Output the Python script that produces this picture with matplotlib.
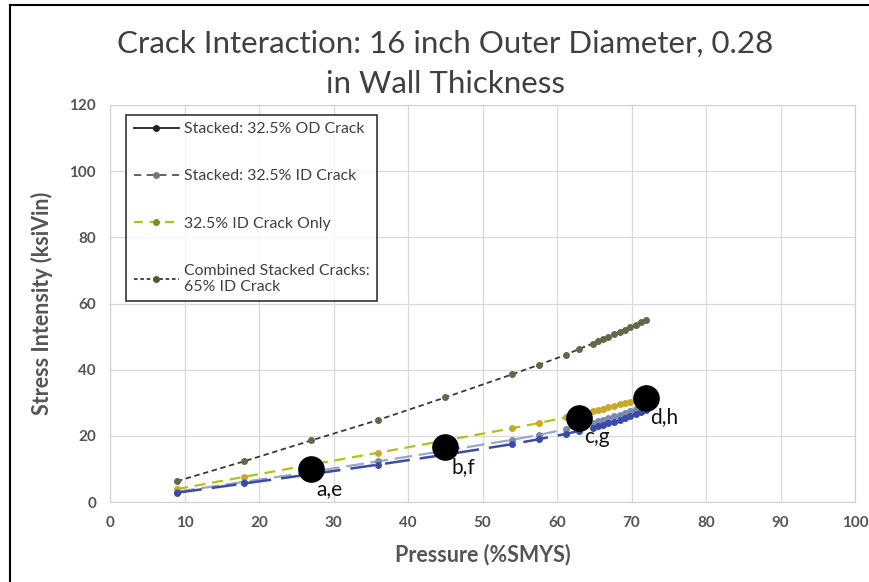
import matplotlib
matplotlib.use("Agg")
import matplotlib.pyplot as plt
from matplotlib.lines import Line2D

plt.rcParams['font.family'] = ['Lato', 'DejaVu Sans']

# Pressure (%SMYS) points
pressure = [9, 18, 27, 36, 45, 54, 57.6, 61.2, 63, 64.8, 65.5, 66.2, 66.9,
            67.7, 68.4, 69.1, 69.8, 70.6, 71.3, 72]

stacked_od = [2.8, 5.6, 8.4, 11.3, 14.3, 17.5, 19.0, 20.6, 21.5, 22.4, 22.9,
              23.3, 23.8, 24.3, 24.8, 25.4, 25.9, 26.5, 27.1, 27.7]
stacked_id = [3.1, 6.1, 9.1, 12.3, 15.5, 18.8, 20.3, 22.0, 23.0, 23.9, 24.4,
              24.9, 25.4, 25.9, 26.4, 27.0, 27.5, 28.1, 28.7, 29.3]
id_only = [3.9, 7.6, 11.3, 14.9, 18.6, 22.3, 23.9, 25.6, 26.5, 27.4, 27.8,
           28.2, 28.6, 29.1, 29.5, 29.9, 30.3, 30.8, 31.2, 31.6]
combined = [6.3, 12.3, 18.6, 24.8, 31.6, 38.6, 41.5, 44.5, 46.3, 47.9, 48.6,
            49.3, 50.0, 50.7, 51.4, 52.1, 52.9, 53.6, 54.3, 55.0]

point_x = [27, 45, 63, 72]
point_y = [10, 16.5, 25.5, 31.5]
point_labels = ["a,e", "b,f", "c,g", "d,h"]

labels = ["Stacked: 32.5% OD Crack", "Stacked: 32.5% ID Crack",
          "32.5% ID Crack Only", "Combined Stacked Cracks:\n65% ID Crack"]

fig = plt.figure(figsize=(8.7, 5.82), dpi=100)
ax = fig.add_axes([110/870, 80/582, 745/870, 397/582])

ax.plot(pressure, combined, linestyle=(0, (3, 2)), color='#3a3a3a', lw=1.3,
        marker='o', ms=4, mfc='#5f6a4a', mec='#5f6a4a', zorder=3)
ax.plot(pressure, id_only, linestyle=(0, (5, 3)), color='#b4c214', lw=1.6,
        marker='o', ms=4, mfc='#c9a82a', mec='#c9a82a', zorder=3)
ax.plot(pressure, stacked_id, linestyle=(0, (8, 3)), color='#9aa7c7', lw=1.6,
        marker='o', ms=4, mfc='#7a8ab0', mec='#7a8ab0', zorder=3)
ax.plot(pressure, stacked_od, linestyle=(0, (10, 4)), color='#3a4aa8', lw=1.8,
        marker='o', ms=4, mfc='#3a4aa8', mec='#3a4aa8', zorder=3)

ax.scatter(point_x, point_y, s=330, color='black', zorder=5)
for x, y, t in zip(point_x, point_y, point_labels):
    ax.annotate(t, (x, y), xytext=(13, -7), textcoords='offset points',
                ha='center', va='top', fontsize=15,
                color='#111111', zorder=6)

ax.set_xlim(0, 100)
ax.set_ylim(0, 120)
ax.set_xticks(range(0, 101, 10))
ax.set_yticks(range(0, 121, 20))
ax.grid(True, color='#d9d9d9', lw=0.9)
ax.set_axisbelow(True)
for s in ax.spines.values():
    s.set_color('#d0d0d0')
ax.tick_params(length=0, labelsize=11, colors='#555555', pad=10)
for lab in ax.get_xticklabels() + ax.get_yticklabels():
    lab.set_fontweight('bold')

ax.set_xlabel("Pressure (%SMYS)", fontsize=15.5, color='#555555',
              fontweight='bold', labelpad=10)
ax.set_ylabel("Stress Intensity (ksiVin)", fontsize=15.5, color='#555555',
              fontweight='bold', labelpad=12)

fig.text(0.512, 0.948, "Crack Interaction: 16 inch Outer Diameter, 0.28\nin Wall Thickness",
         ha='center', va='top', fontsize=22.5, color='#404040', linespacing=1.5)

handles = [
    Line2D([], [], color='#222222', lw=1.3, marker='o', ms=4),
    Line2D([], [], color='#555555', lw=1.3, linestyle=(0, (4, 3)), marker='o', ms=4, mfc='#777777', mec='#777777'),
    Line2D([], [], color='#b4c214', lw=1.6, linestyle=(0, (4, 3)), marker='o', ms=4, mfc='#6a9a20', mec='#6a9a20'),
    Line2D([], [], color='#3a3a3a', lw=1.3, linestyle=(0, (2, 1.5)), marker='o', ms=4, mfc='#4a5a3a', mec='#4a5a3a'),
]
leg = ax.legend(handles, labels, loc='upper left', bbox_to_anchor=(0.022, 0.975),
                fontsize=11.4, frameon=True, fancybox=False, labelspacing=2.1,
                handlelength=2.9, handletextpad=0.3, borderpad=0.45,
                borderaxespad=0, labelcolor='#404040')
leg.get_frame().set_edgecolor('black')
leg.get_frame().set_linewidth(1.2)

# outer frame lines (left and top)
fig.add_artist(Line2D([10/870, 10/870], [0, 1 - 5/582], color='black', lw=1.5))
fig.add_artist(Line2D([10/870, 1], [1 - 5/582, 1 - 5/582], color='black', lw=1.5))

fig.savefig("out.png", dpi=100)
